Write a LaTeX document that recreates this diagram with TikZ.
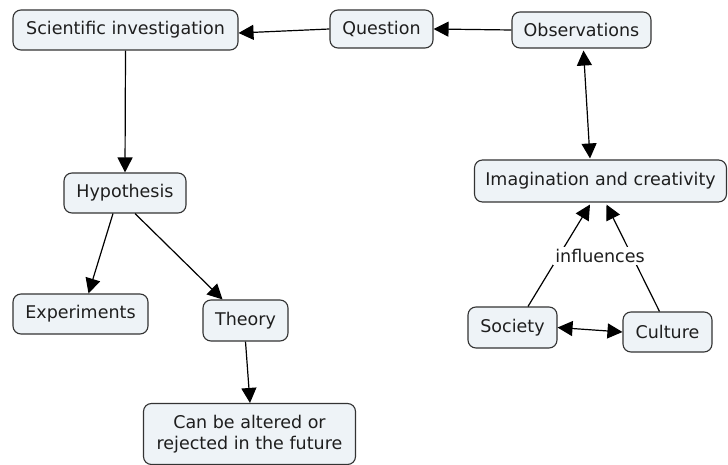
\documentclass[tikz,border=0pt]{standalone}
\usepackage{fontspec}
\setmainfont{DejaVu Sans}
\usetikzlibrary{arrows.meta,calc}
\definecolor{boxfill}{HTML}{EEF3F7}
\definecolor{boxline}{HTML}{333333}
\definecolor{inktext}{HTML}{1E1E1E}
\tikzset{
  concept/.style={draw=boxline, fill=boxfill, line width=1.1pt, rounded corners=8pt,
    inner sep=0pt, text=inktext, font=\fontsize{17.5}{21}\selectfont, align=center},
  tip/.tip={Triangle[length=15pt,width=15pt]},
  link/.style={line width=1.2pt, draw=black, -tip},
  biway/.style={line width=1.2pt, draw=black, tip-tip},
  linklabel/.style={fill=white, inner sep=2pt, text=inktext, font=\fontsize{17.5}{21}\selectfont}
}
\begin{document}
\begin{tikzpicture}[x=1pt,y=-1pt]
\useasboundingbox (0,0) rectangle (728,465);
% concepts
\node[concept, minimum width=225pt, minimum height=40pt] (sci) at (125.5,30) {Scientific investigation};
\node[concept, minimum width=103pt, minimum height=38pt] (question) at (381.5,29) {Question};
\node[concept, minimum width=139pt, minimum height=36pt] (obs) at (581.5,30) {Observations};
\node[concept, minimum width=252pt, minimum height=42pt] (imag) at (600.5,181) {Imagination and creativity};
\node[concept, minimum width=122pt, minimum height=40pt] (hyp) at (125,193) {Hypothesis};
\node[concept, minimum width=135pt, minimum height=40pt] (exp) at (80.5,314) {Experiments};
\node[concept, minimum width=85pt, minimum height=41pt] (theory) at (245.5,320.5) {Theory};
\node[concept, minimum width=212pt, minimum height=61pt] (future) at (249.5,434) {Can be altered or\\rejected in the future};
\node[concept, minimum width=89pt, minimum height=41pt] (society) at (512.5,327.5) {Society};
\node[concept, minimum width=89pt, minimum height=40pt] (culture) at (667.5,332) {Culture};
% connectors
\draw[link] (question.west) -- (sci.east |- 0,33);
\draw[link] (obs.west) -- (question.east);
\draw[link] (sci.south) -- (hyp.north);
\draw[link] ($(hyp.south)+(-12,0)$) -- ($(exp.north)+(8,0)$);
\draw[link] ($(hyp.south)+(10,0)$) -- ($(theory.north)+(-23,0)$);
\draw[link] (theory.south) -- ($(future.north)+(0.5,0)$);
\draw[biway] ($(obs.south)+(2,2)$) -- ($(imag.north)+(-10.5,-1)$);
\draw[biway] (society.east) -- (culture.west);
\coordinate (sinf) at ($(society.north)+(15.5,0)$);
\coordinate (cinf) at ($(culture.north)+(-8,0)$);
\draw[link] (sinf) -- ($(imag.south)+(-10.5,2)$);
\draw[link] (cinf) -- ($(imag.south)+(6,2)$);
\node[linklabel] (infl) at (600,256) {influences};
\end{tikzpicture}
\end{document}
